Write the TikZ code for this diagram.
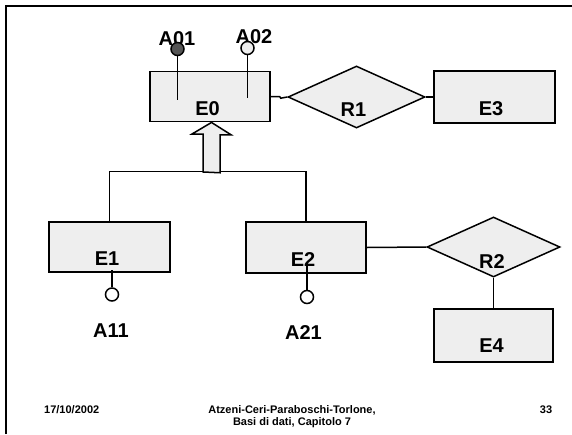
\documentclass[tikz,border=0pt]{standalone}
\usepackage{fontspec}
\setmainfont{Liberation Sans}
\usetikzlibrary{shapes.geometric}
\definecolor{boxfill}{HTML}{EEEEEE}
\definecolor{keyfill}{HTML}{555555}
\tikzset{
  ent/.style={draw, fill=boxfill, rectangle, inner sep=0pt, line width=1.5pt},
  rel/.style={draw, fill=boxfill, diamond, inner sep=0pt, line width=1.5pt},
  lab/.style={inner sep=0pt, font=\fontsize{20}{23}\selectfont\bfseries},
  foot/.style={inner sep=0pt, font=\fontsize{11}{12}\selectfont\bfseries},
  attr/.style={draw, fill=boxfill, circle, inner sep=0pt, minimum size=13pt, line width=1.5pt},
  keyattr/.style={attr, fill=keyfill},
  conn/.style={line width=1.5pt},
}
\begin{document}
\begin{tikzpicture}[x=1pt, y=-1pt]
\useasboundingbox (0,0) rectangle (572,434);
\fill[white] (0,0) rectangle (572,434);
\draw[line width=2pt] (6,434) -- (6,6) -- (572,6);

% entities
\node[ent, minimum width=120pt, minimum height=50pt] (E0) at (210,96.7) {};
\node[ent, minimum width=121pt, minimum height=52pt] (E3) at (494.5,97) {};
\node[ent, minimum width=121pt, minimum height=50pt] (E1) at (109.5,247) {};
\node[ent, minimum width=120pt, minimum height=51pt] (E2) at (306,247.5) {};
\node[ent, minimum width=119pt, minimum height=53pt] (E4) at (493.5,335.5) {};

% relationships
\node[rel, minimum width=137pt, minimum height=62pt] (R1) at (356.5,97) {};
\node[rel, minimum width=133pt, minimum height=60pt] (R2) at (493.5,247) {};

% connectors
\draw[conn] (E0.east) -- ++(9,0) -- ++(1,1.5) -- (R1.west);
\draw[conn] (R1.east) -- (E3.west);
\draw[conn] (E2.east) -- (R2.west);
\draw[conn] (R2.south) -- (E4.north);

% generalization
\draw[conn] (E1.north) -- ++(0,-50) coordinate (gl) -| (E2.north);
\coordinate (isa) at (211.5,172);
\draw[conn, fill=boxfill] (isa) ++(-8.5,0) -- ++(0,-38) -- ++(-11,0)
  -- (isa |- E0.south) -- ++(19.5,12.3) -- ++(-11,0) -- ++(0,38) -- cycle;

% labels
\node[lab] (tE0) at (207.5,108.5) {E0};
\node[lab] (tR1) at (353.5,110) {R1};
\node[lab] (tE3) at (491,109) {E3};
\node[lab] (tE1) at (107,258.5) {E1};
\node[lab] (tE2) at (303,260) {E2};
\node[lab] (tR2) at (492,262) {R2};
\node[lab] (tE4) at (491.5,345.5) {E4};
\node[lab] (tA01) at (177,39) {A01};
\node[lab] (tA02) at (254,37) {A02};
\node[lab] (tA11) at (111,330.5) {A11};
\node[lab] (tA21) at (303.5,332.5) {A21};

% attributes
\node[keyattr] (a01) at (177.5,49) {};
\coordinate (a01e) at (177.5,100);
\draw[conn] (a01.south) -- (a01e);
\node[attr] (a02) at (247.5,48) {};
\coordinate (a02e) at (247.5,98);
\draw[conn] (a02.south) -- (a02e);
\node[attr, fill=white] (a11) at (112,294.5) {};
\coordinate (a11e) at (112,270);
\draw[conn] (a11e) -- (a11.north);
\node[attr, fill=white] (a21) at (307,297) {};
\coordinate (a21e) at (307,264);
\draw[conn] (a21e) -- (a21.north);

% footer
\node[foot, anchor=base west] (date) at (44,413) {17/10/2002};
\node[foot, anchor=base] (auth1) at (292,413) {Atzeni-Ceri-Paraboschi-Torlone,};
\node[foot, anchor=base] (auth2) at (292,425) {Basi di dati, Capitolo 7};
\node[foot, anchor=base] (page) at (546,413) {33};
\end{tikzpicture}
\end{document}
